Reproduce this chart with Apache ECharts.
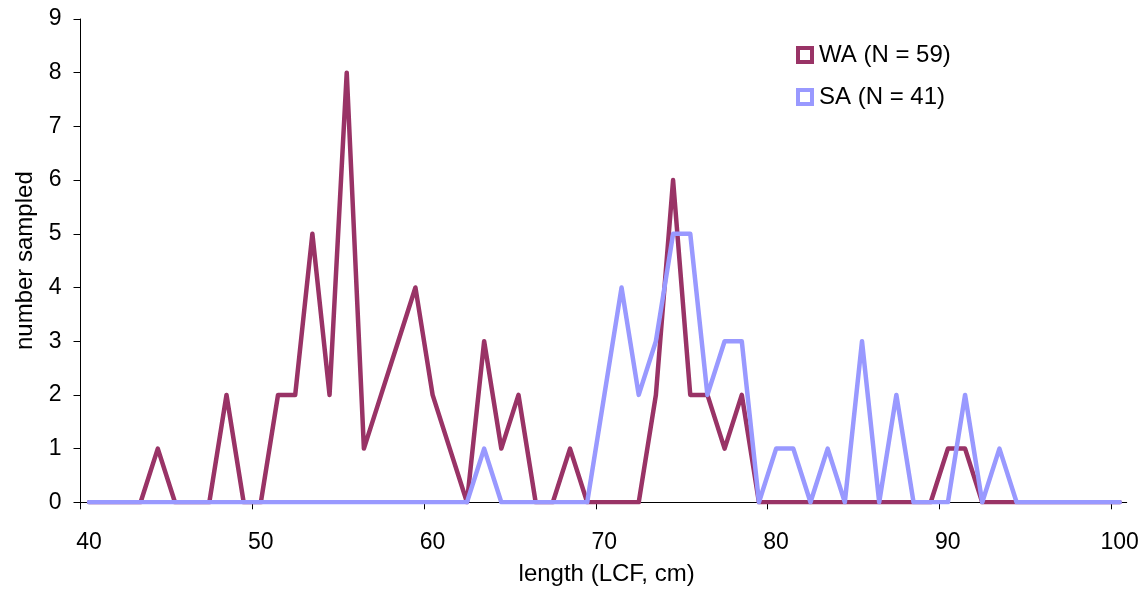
<!DOCTYPE html>
<html>
<head>
<meta charset="utf-8">
<script src="https://cdn.jsdelivr.net/npm/echarts@6/dist/echarts.min.js"></script>
<style>
html,body{margin:0;padding:0;background:#fff;}
#chart{width:1148px;height:590px;}
</style>
</head>
<body>
<div id="chart"></div>
<script>
var lengths = [40.5,41.5,42.5,43.5,44.5,45.5,46.5,47.5,48.5,49.5,
  50.5,51.5,52.5,53.5,54.5,55.5,56.5,57.5,58.5,59.5,
  60.5,61.5,62.5,63.5,64.5,65.5,66.5,67.5,68.5,69.5,
  70.5,71.5,72.5,73.5,74.5,75.5,76.5,77.5,78.5,79.5,
  80.5,81.5,82.5,83.5,84.5,85.5,86.5,87.5,88.5,89.5,
  90.5,91.5,92.5,93.5,94.5,95.5,96.5,97.5,98.5,99.5,
  100.5];
var waCounts = [0,0,0,0,1,0,0,0,2,0,
  0,2,2,5,2,8,1,2,3,4,
  2,1,0,3,1,2,0,0,1,0,
  0,0,0,2,6,2,2,1,2,0,
  0,0,0,0,0,0,0,0,0,0,
  1,1,0,0,0,0,0,0,0,0,
  0];
var saCounts = [0,0,0,0,0,0,0,0,0,0,
  0,0,0,0,0,0,0,0,0,0,
  0,0,0,1,0,0,0,0,0,0,
  2,4,2,3,5,5,2,3,3,0,
  1,1,0,1,0,3,0,2,0,0,
  0,2,0,1,0,0,0,0,0,0,
  0];
var seriesNames = ['WA (N = 59)', 'SA (N = 41)'];
var xTicks = [40, 50, 60, 70, 80, 90, 100];
var yTicks = [0,1,2,3,4,5,6,7,8,9];

function pairs(vals){ return lengths.map(function(x,i){ return [x, vals[i]]; }); }

var WA_COLOR = '#993366', SA_COLOR = '#9999FF';
var FONT = 'Liberation Sans, Arial, sans-serif';

var chart = echarts.init(document.getElementById('chart'), null, {renderer:'canvas'});
chart.setOption({
  animation: false,
  backgroundColor: '#fff',
  grid: {left: 80.5, right: 21.3, top: 19, bottom: 87.7, containLabel: false, outerBoundsMode: 'none'},
  legend: {
    orient: 'vertical',
    left: 796, top: 43,
    padding: 0,
    itemWidth: 14, itemHeight: 14,
    itemGap: 18,
    icon: 'rect',
    textStyle: {fontFamily: FONT, fontSize: 24, color: '#000', padding: [0,0,0,2]},
    data: [
      {name: seriesNames[0], itemStyle: {color: '#fff', borderColor: WA_COLOR, borderWidth: 4}},
      {name: seriesNames[1], itemStyle: {color: '#fff', borderColor: SA_COLOR, borderWidth: 4}}
    ]
  },
  xAxis: {
    type: 'value', min: 40, max: 100.91,
    name: 'length (LCF, cm)', nameLocation: 'middle', nameGap: 60,
    nameTextStyle: {fontFamily: FONT, fontSize: 24, color: '#000', padding: [0,0,0,6]},
    axisLine: {show: true, onZero: false, lineStyle: {color: '#000', width: 1}},
    axisTick: {show: true, length: 7, customValues: xTicks, lineStyle: {color: '#000'}},
    axisLabel: {customValues: xTicks, margin: 29, fontFamily: FONT, fontSize: 23, color: '#000',
      padding: [0,0,0,17]},
    splitLine: {show: false}
  },
  yAxis: {
    type: 'value', min: 0, max: 9, interval: 1,
    name: 'number sampled', nameLocation: 'middle', nameGap: 41, nameRotate: 90,
    nameTextStyle: {fontFamily: FONT, fontSize: 24, color: '#000'},
    axisLine: {show: true, lineStyle: {color: '#000', width: 1}},
    axisTick: {show: true, length: 7, lineStyle: {color: '#000'}},
    axisLabel: {margin: 19, fontFamily: FONT, fontSize: 23, color: '#000',
      formatter: function(v){ return yTicks.indexOf(v) >= 0 ? String(v) : ''; }},
    splitLine: {show: false}
  },
  series: [
    {name: seriesNames[0], type: 'line', data: pairs(waCounts), showSymbol: false, symbol: 'none',
     color: WA_COLOR, lineStyle: {color: WA_COLOR, width: 4.5, join: 'round', cap: 'round'}, z: 2},
    {name: seriesNames[1], type: 'line', data: pairs(saCounts), showSymbol: false, symbol: 'none',
     color: SA_COLOR, lineStyle: {color: SA_COLOR, width: 4.5, join: 'round', cap: 'round'}, z: 3}
  ]
});
</script>
</body>
</html>
